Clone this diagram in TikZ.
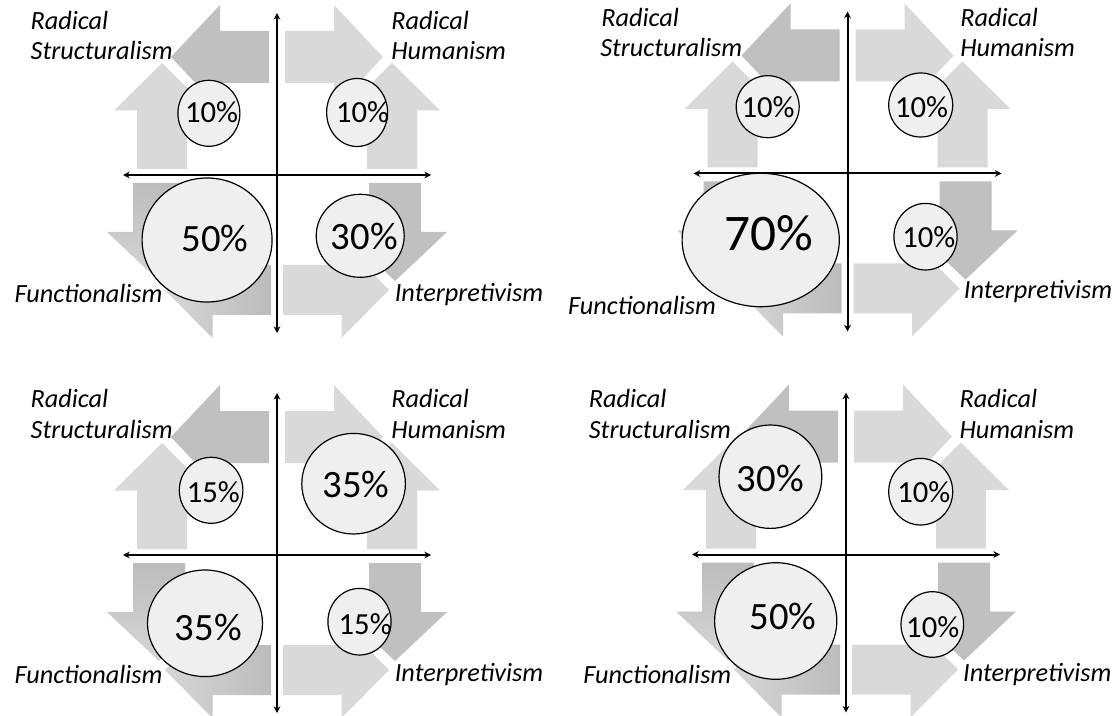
\documentclass[tikz,border=0pt]{standalone}
\usepackage{fontspec}
\setmainfont{Carlito}
\usetikzlibrary{shapes.geometric,arrows.meta}
\definecolor{arLight}{RGB}{217,217,217}
\definecolor{arDark}{RGB}{192,192,192}
\definecolor{arShadeA}{RGB}{188,188,188}
\definecolor{arShadeB}{RGB}{214,214,214}
\definecolor{bubFill}{RGB}{238,239,238}

\newcommand\arTypeA{\def\arC{118}\def\arW{26}\def\arH{52}\def\arS{8}\def\arB{57}\def\arA{106}}
\newcommand\arTypeB{\def\arC{115}\def\arW{25}\def\arH{48}\def\arS{6}\def\arB{64.5}\def\arA{112}}

% horizontal arrow: style, cx, cy, sx, sy
\newcommand\harr[5]{%
  \path[#1] ({#2+(#4)*(\arS)},{#3-(#5)*(\arC-\arW)})
    -- ({#2+(#4)*(\arB)},{#3-(#5)*(\arC-\arW)})
    -- ({#2+(#4)*(\arB)},{#3-(#5)*(\arC-\arH)})
    -- ({#2+(#4)*(\arA)},{#3-(#5)*(\arC)})
    -- ({#2+(#4)*(\arB)},{#3-(#5)*(\arC+\arH)})
    -- ({#2+(#4)*(\arB)},{#3-(#5)*(\arC+\arW)})
    -- ({#2+(#4)*(\arS)},{#3-(#5)*(\arC+\arW)}) -- cycle;}
% vertical arrow: style, cx, cy, sx, sy
\newcommand\varr[5]{%
  \path[#1] ({#2+(#4)*(\arC-\arW)},{#3-(#5)*(\arS)})
    -- ({#2+(#4)*(\arC-\arW)},{#3-(#5)*(\arB)})
    -- ({#2+(#4)*(\arC-\arH)},{#3-(#5)*(\arB)})
    -- ({#2+(#4)*(\arC)},{#3-(#5)*(\arA)})
    -- ({#2+(#4)*(\arC+\arH)},{#3-(#5)*(\arB)})
    -- ({#2+(#4)*(\arC+\arW)},{#3-(#5)*(\arB)})
    -- ({#2+(#4)*(\arC+\arW)},{#3-(#5)*(\arS)}) -- cycle;}

\newcommand\panelarrows[2]{%
  \arTypeA
  \harr{darkar}{#1}{#2}{-1}{1}
  \harr{lightar}{#1}{#2}{1}{1}
  \varr{darkar}{#1}{#2}{1}{-1}
  \varr{shade,top color=arShadeA,bottom color=arShadeB}{#1}{#2}{-1}{-1}
  \arTypeB
  \varr{lightar}{#1}{#2}{-1}{1}
  \varr{lightar}{#1}{#2}{1}{1}
  \harr{lightar}{#1}{#2}{1}{-1}
  \harr{shade,right color=arShadeA,left color=arShadeB}{#1}{#2}{-1}{-1}
}

\newcommand\panelaxes[3]{%
  \coordinate (#1T) at (#2,{#3-162});
  \coordinate (#1Bt) at (#2,{#3+158});
  \coordinate (#1L) at ({#2-154},#3);
  \coordinate (#1R) at ({#2+154},#3);
  \draw[axisline] (#1L) -- (#1R);
  \draw[axisline] (#1T) -- (#1Bt);
}

\newcommand\bub[5]{\node[bub, minimum width={#4*1.5pt}, minimum height={#5*1.5pt}] (#1) at (#2,#3) {};}

\begin{document}
\begin{tikzpicture}[x=0.75pt,y=-0.75pt,
  lightar/.style={fill=arLight},
  darkar/.style={fill=arDark},
  bub/.style={ellipse, draw=black, line width=0.9pt, fill=bubFill, inner sep=0pt},
  pctS/.style={inner sep=0pt, font=\fontsize{23}{27}\selectfont},
  pctM/.style={inner sep=0pt, font=\fontsize{29}{34}\selectfont},
  pctL/.style={inner sep=0pt, font=\fontsize{38.5}{45}\selectfont},
  lab/.style={inner sep=0pt, anchor=base west, font=\fontsize{19.7}{23}\selectfont\itshape},
  axisline/.style={line width=1.5pt, arrows={Stealth[length=5pt,width=5pt]-Stealth[length=5pt,width=5pt]}}
]
\useasboundingbox (0,0) rectangle (1120,716);
\fill[white] (0,0) rectangle (1120,716);

\panelarrows{277}{175}
\panelarrows{847.5}{173.5}
\panelarrows{277}{555}
\panelarrows{846}{554.5}

% panel 1
\bub{aA}{208.9}{113.3}{31}{33}
\bub{aB}{357.1}{112.5}{30.5}{34}
\bub{aC}{207.1}{240}{65}{62}
\bub{aD}{360.2}{235.8}{44}{41.5}
\node[pctS] (aAt) at (211.6,111.7) {10\%};
\node[pctS] (aBt) at (362.5,112.5) {10\%};
\node[pctM] (aCt) at (215.2,238.3) {50\%};
\node[pctM] (aDt) at (364.3,236.7) {30\%};
% panel 2
\bub{bA}{767.7}{106.7}{31.5}{31}
\bub{bB}{920.7}{105}{32}{32}
\bub{bC}{760.7}{240}{78.6}{66.7}
\bub{bD}{925.5}{236.7}{31.6}{33.3}
\node[pctS] (bAt) at (768,107.5) {10\%};
\node[pctS] (bBt) at (921.6,107.5) {10\%};
\node[pctL] (bCt) at (768.9,233.3) {70\%};
\node[pctS] (bDt) at (928.8,236.7) {10\%};
% panel 3
\bub{cA}{211.1}{490.3}{31.8}{33}
\bub{cB}{353.6}{483.7}{51.8}{50.3}
\bub{cC}{205}{623.3}{57.5}{53.3}
\bub{cD}{359.5}{621.7}{31.6}{33.3}
\node[pctS] (cAt) at (213.4,492.5) {15\%};
\node[pctM] (cBt) at (355.9,484.2) {35\%};
\node[pctM] (cCt) at (208.4,627.5) {35\%};
\node[pctS] (cDt) at (365.2,624.2) {15\%};
% panel 4
\bub{dA}{770.4}{476.7}{51.4}{51.7}
\bub{dB}{920.7}{491.7}{32}{33.3}
\bub{dC}{775.7}{621}{61.1}{58.3}
\bub{dD}{932.3}{624.5}{31.3}{32.8}
\node[pctM] (dAt) at (770.2,478.3) {30\%};
\node[pctS] (dBt) at (923.8,492.5) {10\%};
\node[pctM] (dCt) at (783,616.7) {50\%};
\node[pctS] (dDt) at (932.7,627.5) {10\%};

% labels
\node[lab] (aL1) at (30.4,29.3) {Radical};
\node[lab] (aL2) at (30.4,60) {Structuralism};
\node[lab] (aL3) at (391.1,29.3) {Radical};
\node[lab] (aL4) at (391.1,59.5) {Humanism};
\node[lab] (aL5) at (14.3,303) {Functionalism};
\node[lab] (aL6) at (394.6,301.7) {Interpretivism};

\node[lab] (bL1) at (601.1,26.7) {Radical};
\node[lab] (bL2) at (600,56.7) {Structuralism};
\node[lab] (bL3) at (960,26.7) {Radical};
\node[lab] (bL4) at (960,56.7) {Humanism};
\node[lab] (bL5) at (567.9,315) {Functionalism};
\node[lab] (bL6) at (963.6,298.3) {Interpretivism};

\node[lab] (cL1) at (30.4,407.3) {Radical};
\node[lab] (cL2) at (30.4,438.3) {Structuralism};
\node[lab] (cL3) at (391.1,407.3) {Radical};
\node[lab] (cL4) at (391.1,438.3) {Humanism};
\node[lab] (cL5) at (14.3,683.3) {Functionalism};
\node[lab] (cL6) at (394.6,681.7) {Interpretivism};

\node[lab] (dL1) at (588.6,407.3) {Radical};
\node[lab] (dL2) at (588.6,438.3) {Structuralism};
\node[lab] (dL3) at (959.3,407.3) {Radical};
\node[lab] (dL4) at (959.3,438.3) {Humanism};
\node[lab] (dL5) at (583.2,683.3) {Functionalism};
\node[lab] (dL6) at (962.9,681.7) {Interpretivism};

\panelaxes{pa}{277}{175}
\panelaxes{pb}{847.5}{173.5}
\panelaxes{pc}{277}{555}
\panelaxes{pd}{846}{554.5}
\end{tikzpicture}
\end{document}
